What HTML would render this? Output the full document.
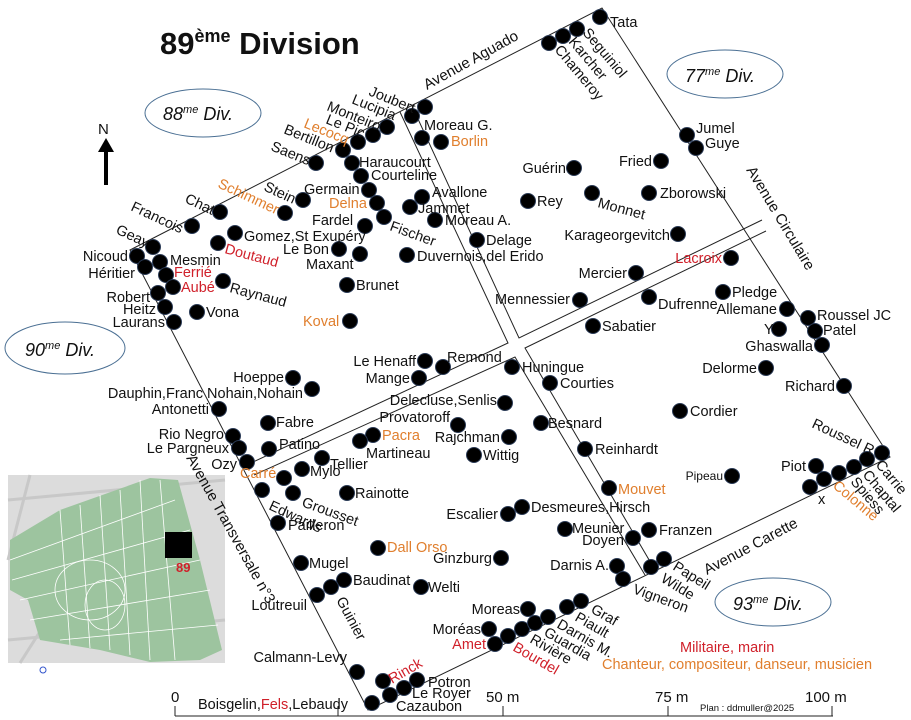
<!DOCTYPE html>
<html><head><meta charset="utf-8"><style>
html,body{margin:0;padding:0;background:#fff}
svg{display:block}
text{font-family:"Liberation Sans",Arial,sans-serif;font-size:14.5px;fill:#111}
.o{fill:#e07f2e}.r{fill:#d0202a}
.el{font-style:italic;font-size:18px}
</style></head><body>
<svg width="911" height="720" viewBox="0 0 911 720" xmlns="http://www.w3.org/2000/svg">
<!-- inset map -->
<rect x="8" y="475" width="217" height="188" fill="#dcdcdc"/>
<g stroke="#c8c8c8" stroke-width="3"><line x1="8" y1="500" x2="225" y2="480"/><line x1="30" y1="475" x2="8" y2="560"/><line x1="8" y1="640" x2="225" y2="620"/><line x1="20" y1="663" x2="60" y2="600"/></g>
<polygon points="10,540 60,510 150,478 178,480 200,560 222,650 200,660 150,662 100,650 40,640 28,600 10,590" fill="#9dc49f"/>
<g stroke="#fff" stroke-width="0.8" fill="none">
<line x1="10" y1="560" x2="175" y2="500"/><line x1="12" y1="580" x2="190" y2="530"/><line x1="20" y1="600" x2="200" y2="560"/><line x1="30" y1="620" x2="210" y2="590"/><line x1="60" y1="640" x2="218" y2="625"/>
<line x1="60" y1="510" x2="70" y2="645"/><line x1="100" y1="495" x2="110" y2="650"/><line x1="140" y1="480" x2="150" y2="660"/><line x1="160" y1="480" x2="175" y2="660"/><line x1="120" y1="490" x2="130" y2="655"/><line x1="80" y1="505" x2="90" y2="648"/>
<ellipse cx="90" cy="590" rx="35" ry="30"/><ellipse cx="105" cy="605" rx="20" ry="25"/>
</g>
<rect x="165" y="532" width="27" height="26" fill="#000"/>
<text x="176" y="572" style="font-size:13px;font-weight:bold" class="r">89</text>
<circle cx="43" cy="670" r="3" fill="none" stroke="#35c" stroke-width="1"/>

<!-- title -->
<text x="160" y="54" style="font-size:31px;font-weight:bold">89<tspan dy="-12" style="font-size:18px">ème</tspan><tspan dy="12"> Division</tspan></text>
<!-- north -->
<text x="98" y="134" style="font-size:15px">N</text>
<line x1="106" y1="148" x2="106" y2="185" stroke="#000" stroke-width="4"/>
<polygon points="98,152 106,138 114,152" fill="#000"/>

<!-- ellipses -->
<g fill="none" stroke="#4a6f93" stroke-width="1">
<ellipse cx="203" cy="113" rx="58" ry="24"/><ellipse cx="725" cy="74" rx="58" ry="24"/>
<ellipse cx="65" cy="348" rx="60" ry="26"/><ellipse cx="773" cy="602" rx="58" ry="24"/>
</g>
<text class="el" x="163" y="120">88<tspan dy="-7" style="font-size:11px">me</tspan><tspan dy="7"> Div.</tspan></text>
<text class="el" x="685" y="82">77<tspan dy="-7" style="font-size:11px">me</tspan><tspan dy="7"> Div.</tspan></text>
<text class="el" x="25" y="356">90<tspan dy="-7" style="font-size:11px">me</tspan><tspan dy="7"> Div.</tspan></text>
<text class="el" x="733" y="610">93<tspan dy="-7" style="font-size:11px">me</tspan><tspan dy="7"> Div.</tspan></text>

<!-- outlines -->
<g fill="none" stroke="#222" stroke-width="1">
<polygon points="130,250 602,8 890,457 368,710"/>
<polyline points="400,112 508,343 251,463"/>
<polyline points="412,106 519,338 762,220"/>
<polyline points="254,475 515,357 645,575"/>
<polyline points="766,231 525,348 655,570"/>
</g>

<!-- scale -->
<g stroke="#222" stroke-width="1">
<line x1="175" y1="716" x2="833" y2="716"/>
<line x1="175" y1="706" x2="175" y2="716"/><line x1="338" y1="706" x2="338" y2="716"/>
<line x1="503" y1="706" x2="503" y2="716"/><line x1="668" y1="706" x2="668" y2="716"/><line x1="832" y1="706" x2="832" y2="716"/>
</g>
<text x="171" y="702" style="font-size:15px">0</text>
<text x="486" y="702" style="font-size:15px">50 m</text>
<text x="655" y="702" style="font-size:15px">75 m</text>
<text x="805" y="702" style="font-size:15px">100 m</text>
<text x="700" y="711" style="font-size:9.5px">Plan : ddmuller@2025</text>

<!-- dots -->
<g fill="#000" stroke="#2a3a55" stroke-width="1">
<circle cx="425" cy="107" r="7.5"/><circle cx="412" cy="116" r="7.5"/><circle cx="387" cy="127" r="7.5"/><circle cx="373" cy="135" r="7.5"/><circle cx="358" cy="142" r="7.5"/><circle cx="343" cy="150" r="7.5"/><circle cx="352" cy="163" r="7.5"/><circle cx="361" cy="176" r="7.5"/><circle cx="369" cy="190" r="7.5"/><circle cx="377" cy="203" r="7.5"/><circle cx="384" cy="217" r="7.5"/><circle cx="365" cy="226" r="7.5"/><circle cx="360" cy="254" r="7.5"/><circle cx="339" cy="249" r="7.5"/>
<circle cx="316" cy="163" r="7.5"/><circle cx="303" cy="200" r="7.5"/><circle cx="285" cy="213" r="7.5"/><circle cx="220" cy="212" r="7.5"/><circle cx="192" cy="226" r="7.5"/><circle cx="235" cy="233" r="7.5"/><circle cx="218" cy="243" r="7.5"/><circle cx="153" cy="247" r="7.5"/><circle cx="137" cy="256" r="7.5"/><circle cx="145" cy="267" r="7.5"/><circle cx="160" cy="262" r="7.5"/><circle cx="166" cy="275" r="7.5"/><circle cx="173" cy="287" r="7.5"/><circle cx="158" cy="293" r="7.5"/><circle cx="165" cy="307" r="7.5"/><circle cx="174" cy="322" r="7.5"/><circle cx="197" cy="312" r="7.5"/><circle cx="223" cy="281" r="7.5"/>
<circle cx="422" cy="138" r="7.5"/><circle cx="441" cy="142" r="7.5"/><circle cx="422" cy="197" r="7.5"/><circle cx="410" cy="207" r="7.5"/><circle cx="435" cy="220" r="7.5"/><circle cx="477" cy="240" r="7.5"/><circle cx="407" cy="255" r="7.5"/><circle cx="347" cy="285" r="7.5"/><circle cx="350" cy="321" r="7.5"/><circle cx="528" cy="201" r="7.5"/>
<circle cx="600" cy="17" r="7.5"/><circle cx="577" cy="29" r="7.5"/><circle cx="563" cy="36" r="7.5"/><circle cx="549" cy="43" r="7.5"/>
<circle cx="574" cy="168" r="7.5"/><circle cx="661" cy="161" r="7.5"/><circle cx="687" cy="135" r="7.5"/><circle cx="696" cy="148" r="7.5"/><circle cx="592" cy="193" r="7.5"/><circle cx="649" cy="193" r="7.5"/><circle cx="678" cy="234" r="7.5"/><circle cx="731" cy="258" r="7.5"/><circle cx="636" cy="273" r="7.5"/><circle cx="580" cy="300" r="7.5"/><circle cx="649" cy="297" r="7.5"/><circle cx="723" cy="292" r="7.5"/><circle cx="787" cy="309" r="7.5"/><circle cx="808" cy="318" r="7.5"/><circle cx="815" cy="331" r="7.5"/><circle cx="779" cy="329" r="7.5"/><circle cx="822" cy="345" r="7.5"/><circle cx="593" cy="326" r="7.5"/>
<circle cx="512" cy="367" r="7.5"/><circle cx="550" cy="383" r="7.5"/><circle cx="505" cy="403" r="7.5"/><circle cx="541" cy="423" r="7.5"/><circle cx="509" cy="437" r="7.5"/><circle cx="474" cy="455" r="7.5"/><circle cx="458" cy="425" r="7.5"/><circle cx="585" cy="449" r="7.5"/><circle cx="680" cy="411" r="7.5"/><circle cx="766" cy="368" r="7.5"/><circle cx="844" cy="386" r="7.5"/>
<circle cx="882" cy="453" r="7.5"/><circle cx="867" cy="459" r="7.5"/><circle cx="854" cy="467" r="7.5"/><circle cx="839" cy="473" r="7.5"/><circle cx="824" cy="479" r="7.5"/><circle cx="810" cy="487" r="7.5"/><circle cx="816" cy="466" r="7.5"/><circle cx="732" cy="476" r="7.5"/><circle cx="609" cy="488" r="7.5"/><circle cx="522" cy="507" r="7.5"/><circle cx="508" cy="514" r="7.5"/><circle cx="565" cy="529" r="7.5"/><circle cx="633" cy="538" r="7.5"/><circle cx="649" cy="530" r="7.5"/><circle cx="501" cy="558" r="7.5"/><circle cx="617" cy="566" r="7.5"/><circle cx="623" cy="579" r="7.5"/><circle cx="664" cy="559" r="7.5"/><circle cx="651" cy="567" r="7.5"/>
<circle cx="528" cy="609" r="7.5"/><circle cx="489" cy="629" r="7.5"/><circle cx="495" cy="644" r="7.5"/><circle cx="508" cy="636" r="7.5"/><circle cx="522" cy="629" r="7.5"/><circle cx="535" cy="623" r="7.5"/><circle cx="548" cy="617" r="7.5"/><circle cx="567" cy="607" r="7.5"/><circle cx="581" cy="601" r="7.5"/>
<circle cx="425" cy="361" r="7.5"/><circle cx="443" cy="367" r="7.5"/><circle cx="419" cy="378" r="7.5"/><circle cx="293" cy="378" r="7.5"/><circle cx="312" cy="389" r="7.5"/><circle cx="219" cy="409" r="7.5"/><circle cx="268" cy="423" r="7.5"/><circle cx="269" cy="449" r="7.5"/><circle cx="233" cy="436" r="7.5"/><circle cx="239" cy="448" r="7.5"/><circle cx="247" cy="462" r="7.5"/><circle cx="262" cy="490" r="7.5"/><circle cx="284" cy="478" r="7.5"/><circle cx="302" cy="469" r="7.5"/><circle cx="322" cy="458" r="7.5"/><circle cx="373" cy="435" r="7.5"/><circle cx="360" cy="441" r="7.5"/><circle cx="293" cy="493" r="7.5"/><circle cx="347" cy="493" r="7.5"/><circle cx="278" cy="523" r="7.5"/><circle cx="378" cy="548" r="7.5"/><circle cx="301" cy="563" r="7.5"/><circle cx="344" cy="580" r="7.5"/><circle cx="331" cy="587" r="7.5"/><circle cx="317" cy="595" r="7.5"/><circle cx="421" cy="587" r="7.5"/><circle cx="357" cy="672" r="7.5"/><circle cx="383" cy="681" r="7.5"/><circle cx="390" cy="695" r="7.5"/><circle cx="404" cy="688" r="7.5"/><circle cx="417" cy="680" r="7.5"/><circle cx="372" cy="703" r="7.5"/>
</g>

<!-- horizontal labels -->
<text x="359" y="167">Haraucourt</text><text x="371" y="180">Courteline</text><text x="304" y="194">Germain</text>
<text x="329" y="208" class="o">Delna</text><text x="312" y="225">Fardel</text><text x="244" y="241">Gomez,St Exupéry</text>
<text x="283" y="254">Le Bon</text><text x="306" y="269">Maxant</text><text x="356" y="290">Brunet</text><text x="303" y="326" class="o">Koval</text>
<text x="432" y="197">Avallone</text><text x="418" y="213">Jammet</text><text x="445" y="225">Moreau A.</text><text x="486" y="245">Delage</text>
<text x="417" y="261">Duvernois,del Erido</text><text x="424" y="130">Moreau G.</text><text x="451" y="146" class="o">Borlin</text>
<text x="170" y="265">Mesmin</text><text x="174" y="277" class="r">Ferrié</text><text x="181" y="292" class="r">Aubé</text>
<text x="128" y="261" text-anchor="end">Nicoud</text><text x="135" y="278" text-anchor="end">Héritier</text>
<text x="150" y="302" text-anchor="end">Robert</text><text x="156" y="314" text-anchor="end">Heitz</text><text x="165" y="327" text-anchor="end">Laurans</text>
<text x="206" y="317">Vona</text><text x="537" y="206">Rey</text><text x="566" y="173" text-anchor="end">Guérin</text><text x="652" y="166" text-anchor="end">Fried</text>
<text x="696" y="133">Jumel</text><text x="705" y="148">Guye</text><text x="660" y="198">Zborowski</text>
<text x="670" y="240" text-anchor="end">Karageorgevitch</text><text x="722" y="263" text-anchor="end" class="r">Lacroix</text>
<text x="627" y="278" text-anchor="end">Mercier</text><text x="570" y="304" text-anchor="end">Mennessier</text><text x="658" y="309">Dufrenne</text><text x="732" y="297">Pledge</text>
<text x="777" y="314" text-anchor="end">Allemane</text><text x="817" y="320">Roussel JC</text><text x="823" y="335">Patel</text><text x="764" y="334">Y</text>
<text x="813" y="351" text-anchor="end">Ghaswalla</text><text x="602" y="331">Sabatier</text><text x="610" y="27">Tata</text>
<text x="522" y="372">Huningue</text><text x="560" y="388">Courties</text><text x="497" y="405" text-anchor="end">Delecluse,Senlis</text><text x="548" y="428">Besnard</text>
<text x="500" y="442" text-anchor="end">Rajchman</text><text x="483" y="460">Wittig</text><text x="450" y="422" text-anchor="end">Provatoroff</text><text x="595" y="454">Reinhardt</text>
<text x="690" y="416">Cordier</text><text x="757" y="373" text-anchor="end">Delorme</text><text x="835" y="391" text-anchor="end">Richard</text><text x="806" y="471" text-anchor="end">Piot</text>
<text x="723" y="480" style="font-size:12px" text-anchor="end">Pipeau</text><text x="618" y="494" class="o">Mouvet</text><text x="531" y="512">Desmeures,Hirsch</text>
<text x="498" y="519" text-anchor="end">Escalier</text><text x="572" y="533">Meunier</text><text x="624" y="545" text-anchor="end">Doyen</text><text x="659" y="535">Franzen</text>
<text x="492" y="563" text-anchor="end">Ginzburg</text><text x="609" y="570" text-anchor="end">Darnis A.</text>
<text x="520" y="614" text-anchor="end">Moreas</text><text x="481" y="634" text-anchor="end">Moréas</text><text x="486" y="649" class="r" text-anchor="end">Amet</text>
<text x="680" y="652" class="r">Militaire, marin</text><text x="602" y="669" class="o">Chanteur, compositeur, danseur, musicien</text>
<text x="416" y="366" text-anchor="end">Le Henaff</text><text x="447" y="362">Remond</text><text x="410" y="383" text-anchor="end">Mange</text><text x="284" y="382" text-anchor="end">Hoeppe</text>
<text x="303" y="398" text-anchor="end">Dauphin,Franc Nohain,Nohain</text><text x="209" y="414" text-anchor="end">Antonetti</text><text x="276" y="427">Fabre</text><text x="279" y="449">Patino</text>
<text x="224" y="439" text-anchor="end">Rio Negro</text><text x="229" y="453" text-anchor="end">Le Pargneux</text><text x="237" y="469" text-anchor="end">Ozy</text><text x="240" y="478" class="o">Carré</text>
<text x="310" y="476">Mylo</text><text x="330" y="469">Tellier</text><text x="382" y="440" class="o">Pacra</text><text x="366" y="458">Martineau</text>
<text x="355" y="498">Rainotte</text><text x="288" y="530">Pailleron</text><text x="387" y="552" class="o">Dall Orso</text><text x="309" y="568">Mugel</text>
<text x="353" y="585">Baudinat</text><text x="428" y="592">Welti</text><text x="307" y="610" text-anchor="end">Loutreuil</text><text x="347" y="662" text-anchor="end">Calmann-Levy</text>
<text x="428" y="687">Potron</text><text x="412" y="698">Le Royer</text><text x="396" y="711">Cazaubon</text>
<text x="198" y="709">Boisgelin,<tspan class="r">Fels</tspan>,Lebaudy</text>
<text x="818" y="504">x</text>

<!-- rotated labels -->
<text transform="translate(368,95) rotate(22)">Joubert</text>
<text transform="translate(351,103) rotate(22)">Lucipia</text>
<text transform="translate(326,110) rotate(22)">Monteiro</text>
<text transform="translate(325,123) rotate(22)">Le Pic</text>
<text transform="translate(303,127) rotate(22)" class="o">Lecocq</text>
<text transform="translate(283,133) rotate(22)">Bertillon</text>
<text transform="translate(270,150) rotate(22)">Saens</text>
<text transform="translate(263,190) rotate(25)">Stein</text>
<text transform="translate(217,187) rotate(25)" class="o">Schimmer</text>
<text transform="translate(184,202) rotate(25)">Chat</text>
<text transform="translate(130,210) rotate(25)">Francois</text>
<text transform="translate(115,233) rotate(25)">Geay</text>
<text transform="translate(389,230) rotate(20)">Fischer</text>
<text transform="translate(224,253) rotate(15)" class="r">Doutaud</text>
<text transform="translate(229,292) rotate(15)">Raynaud</text>
<text transform="translate(597,207) rotate(15)">Monnet</text>
<text transform="translate(582,33) rotate(50)">Seguiniol</text>
<text transform="translate(568,42) rotate(50)">Karcher</text>
<text transform="translate(554,50) rotate(50)">Chameroy</text>
<text transform="translate(427,90) rotate(-29)" style="font-size:15px">Avenue Aguado</text>
<text transform="translate(746,170) rotate(59)" style="font-size:15px">Avenue Circulaire</text>
<text transform="translate(811,427) rotate(25)">Roussel R</text>
<text transform="translate(875,465) rotate(50)">Carrie</text>
<text transform="translate(862,475) rotate(50)">Chaptal</text>
<text transform="translate(850,482) rotate(50)">Spiess</text>
<text transform="translate(832,487) rotate(40)" class="o">Colonne</text>
<text transform="translate(632,593) rotate(20)">Vigneron</text>
<text transform="translate(672,569) rotate(32)">Papeil</text>
<text transform="translate(660,581) rotate(32)">Wilde</text>
<text transform="translate(707,575) rotate(-28)" style="font-size:15px">Avenue Carette</text>
<text transform="translate(590,612) rotate(30)">Graf</text>
<text transform="translate(574,620) rotate(30)">Piault</text>
<text transform="translate(556,627) rotate(30)">Darnis M.</text>
<text transform="translate(543,635) rotate(30)">Guardia</text>
<text transform="translate(529,642) rotate(30)">Rivière</text>
<text transform="translate(512,650) rotate(30)" class="r">Bourdel</text>
<text transform="translate(301,506) rotate(20)">Grousset</text>
<text transform="translate(268,509) rotate(25)">Edwards</text>
<text transform="translate(336,600) rotate(62)">Guinier</text>
<text transform="translate(186,458) rotate(61)" style="font-size:15px">Avenue Transversale n°3</text>
<text transform="translate(392,684) rotate(-30)" class="r">Rinck</text>
</svg>
</body></html>
